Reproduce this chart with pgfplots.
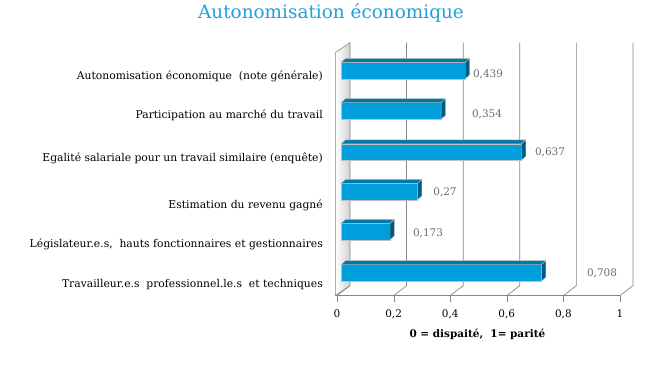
\documentclass[border=0pt]{standalone}
\usepackage{fontspec}
\setmainfont{DejaVu Serif}
\usepackage{pgfplots}
\pgfplotsset{compat=1.18}
\definecolor{barfront}{HTML}{009EDB}
\definecolor{bartop}{HTML}{0078A8}
\definecolor{barside}{HTML}{005B80}
\definecolor{barline}{HTML}{BFBFBF}
\definecolor{titleblue}{HTML}{1EA0DC}
\definecolor{gridgray}{HTML}{868686}
\definecolor{valgray}{HTML}{6A6A72}
\begin{document}
\begin{tikzpicture}
\begin{axis}[
  scale only axis, width=283bp, height=253bp,
  xmin=0, xmax=1, ymin=41, ymax=294, y dir=reverse,
  clip=false, axis line style={draw=none},
  xtick={0,0.2,0.4,0.6,0.8,1},
  xticklabels={0,{0,2},{0,4},{0,6},{0,8},1},
  xticklabel style={font=\fontsize{10.5}{13}\selectfont, inner sep=0pt, yshift=-8bp},
  xtick style={draw=gridgray}, major tick length=6bp, tick align=outside,
  xtick pos=lower,
  ytick={75,114,157,204,243,283},
  yticklabels={{Autonomisation économique\ \ (note générale)},
    {Participation au marché du travail},
    {Egalité salariale pour un travail similaire (enquête)},
    {Estimation du revenu gagné},
    {Législateur.e.s,\ \ hauts fonctionnaires et gestionnaires},
    {Travailleur.e.s\ \ professionnel.le.s\ \ et techniques}},
  yticklabel style={font=\fontsize{10.8}{13}\selectfont, anchor=east, inner sep=0pt, xshift=-8bp},
  ytick style={draw=none},
]
% bounding box of the whole picture (666 x 367)
\path (axis cs:-1.1908,0) rectangle (axis cs:1.1625,367);
% left wall
\addplot[draw=gridgray, left color=white, right color=gray!35, line width=0.6pt]
  coordinates {(-0.006,51) (0.0459,41) (0.0459,284) (-0.006,294)} --cycle;
% back wall gridlines
\addplot[gridgray, line width=0.7pt] coordinates {(0.2459,41) (0.2459,284) (0.2,294)};
\addplot[gridgray, line width=0.7pt] coordinates {(0.4459,41) (0.4459,284) (0.4,294)};
\addplot[gridgray, line width=0.7pt] coordinates {(0.6459,41) (0.6459,284) (0.6,294)};
\addplot[gridgray, line width=0.7pt] coordinates {(0.8459,41) (0.8459,284) (0.8,294)};
\addplot[gridgray, line width=0.7pt] coordinates {(1.0459,41) (1.0459,284) (1,294)};
\addplot[gridgray, line width=0.7pt] coordinates {(0.0459,284) (0,294)};
% front floor edge
\addplot[gridgray, line width=0.7pt] coordinates {(-0.006,294) (1,294)};
% bars: front, top, side
\addplot[fill=barfront, draw=barline, line width=0.6pt] coordinates {(0.0141,60.8) (0.4531,60.8) (0.4531,77.2) (0.0141,77.2)} --cycle;
\addplot[fill=bartop, draw=barline, line width=0.4pt] coordinates {(0.0141,60.8) (0.4531,60.8) (0.4690,56.8) (0.0300,56.8)} --cycle;
\addplot[fill=barside, draw=barline, line width=0.4pt] coordinates {(0.4531,60.8) (0.4690,56.8) (0.4690,73.2) (0.4531,77.2)} --cycle;

\addplot[fill=barfront, draw=barline, line width=0.6pt] coordinates {(0.0141,101.1) (0.3681,101.1) (0.3681,117.5) (0.0141,117.5)} --cycle;
\addplot[fill=bartop, draw=barline, line width=0.4pt] coordinates {(0.0141,101.1) (0.3681,101.1) (0.3840,97.1) (0.0300,97.1)} --cycle;
\addplot[fill=barside, draw=barline, line width=0.4pt] coordinates {(0.3681,101.1) (0.3840,97.1) (0.3840,113.5) (0.3681,117.5)} --cycle;

\addplot[fill=barfront, draw=barline, line width=0.6pt] coordinates {(0.0141,142.3) (0.6511,142.3) (0.6511,158.7) (0.0141,158.7)} --cycle;
\addplot[fill=bartop, draw=barline, line width=0.4pt] coordinates {(0.0141,142.3) (0.6511,142.3) (0.6670,138.3) (0.0300,138.3)} --cycle;
\addplot[fill=barside, draw=barline, line width=0.4pt] coordinates {(0.6511,142.3) (0.6670,138.3) (0.6670,154.7) (0.6511,158.7)} --cycle;

\addplot[fill=barfront, draw=barline, line width=0.6pt] coordinates {(0.0141,181.8) (0.2841,181.8) (0.2841,198.2) (0.0141,198.2)} --cycle;
\addplot[fill=bartop, draw=barline, line width=0.4pt] coordinates {(0.0141,181.8) (0.2841,181.8) (0.3000,177.8) (0.0300,177.8)} --cycle;
\addplot[fill=barside, draw=barline, line width=0.4pt] coordinates {(0.2841,181.8) (0.3000,177.8) (0.3000,194.2) (0.2841,198.2)} --cycle;

\addplot[fill=barfront, draw=barline, line width=0.6pt] coordinates {(0.0141,221.8) (0.1871,221.8) (0.1871,238.2) (0.0141,238.2)} --cycle;
\addplot[fill=bartop, draw=barline, line width=0.4pt] coordinates {(0.0141,221.8) (0.1871,221.8) (0.2030,217.8) (0.0300,217.8)} --cycle;
\addplot[fill=barside, draw=barline, line width=0.4pt] coordinates {(0.1871,221.8) (0.2030,217.8) (0.2030,234.2) (0.1871,238.2)} --cycle;

\addplot[fill=barfront, draw=barline, line width=0.6pt] coordinates {(0.0141,263.1) (0.7221,263.1) (0.7221,279.5) (0.0141,279.5)} --cycle;
\addplot[fill=bartop, draw=barline, line width=0.4pt] coordinates {(0.0141,263.1) (0.7221,263.1) (0.7380,259.1) (0.0300,259.1)} --cycle;
\addplot[fill=barside, draw=barline, line width=0.4pt] coordinates {(0.7221,263.1) (0.7380,259.1) (0.7380,275.5) (0.7221,279.5)} --cycle;
% value labels
\addplot[draw=none, mark=none, nodes near coords, point meta=explicit symbolic,
  nodes near coords style={valgray, anchor=center, font=\fontsize{10.5}{13}\selectfont}]
  coordinates {(0.5336,73) [0{,}439] (0.530,113) [0{,}354] (0.7527,150.7) [0{,}637]
               (0.3816,191) [0{,}27] (0.3216,231.7) [0{,}173] (0.9364,272) [0{,}708]};
% title and axis label
\node[titleblue, font=\fontsize{18.5}{21}\selectfont] at (axis cs:-0.0212,11) {Autonomisation économique};
\node[font=\bfseries\fontsize{10.5}{13}\selectfont] at (axis cs:0.496,333) {0 = dispaité,\ \ 1= parité};
\end{axis}
\end{tikzpicture}
\end{document}
